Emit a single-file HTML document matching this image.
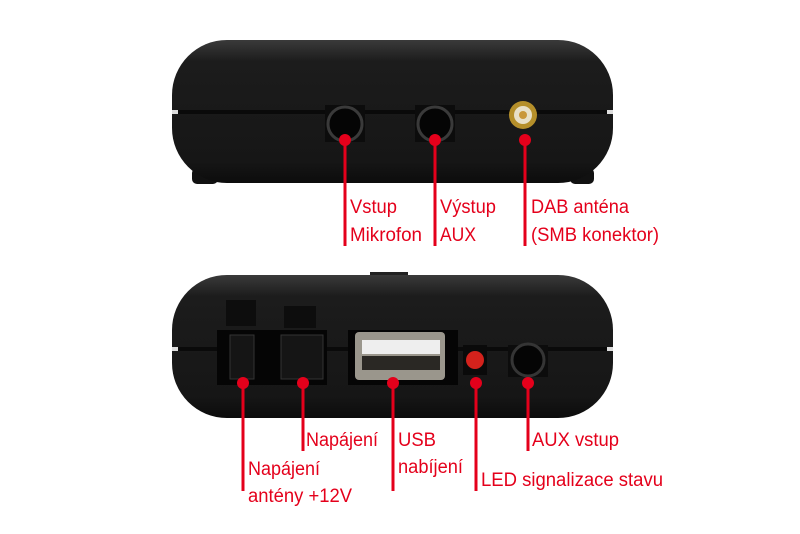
<!DOCTYPE html>
<html><head><meta charset="utf-8"><style>
html,body{margin:0;padding:0;background:#fff;width:800px;height:534px;overflow:hidden}
text{font-family:"Liberation Sans",sans-serif;font-size:19px;fill:#e4001b}
</style></head><body>
<svg width="800" height="534" viewBox="0 0 800 534" xmlns="http://www.w3.org/2000/svg">
<defs>
<linearGradient id="b" x1="0" y1="0" x2="0" y2="1">
<stop offset="0" stop-color="#3a3a3a"/><stop offset="0.15" stop-color="#1c1c1c"/><stop offset="0.85" stop-color="#161616"/><stop offset="1" stop-color="#0c0c0c"/></linearGradient>
</defs>
<!-- top device -->
<rect x="192" y="168" width="26" height="16" rx="5" fill="#111"/>
<rect x="570" y="168" width="24" height="16" rx="5" fill="#111"/>
<rect x="172" y="40" width="441" height="143" rx="55" fill="url(#b)"/>
<rect x="172" y="110" width="441" height="4" fill="#0a0a0a"/>
<rect x="172" y="110" width="6" height="4" fill="#ddd"/><rect x="607" y="110" width="6" height="4" fill="#ddd"/>
<rect x="325" y="105" width="40" height="37" fill="#0c0c0c"/>
<circle cx="345" cy="124" r="17" fill="#050505" stroke="#3a3a3a" stroke-width="3"/>
<rect x="415" y="105" width="40" height="37" fill="#0c0c0c"/>
<circle cx="435" cy="124" r="17" fill="#050505" stroke="#3a3a3a" stroke-width="3"/>
<circle cx="523" cy="115" r="14" fill="#b58f2a"/><circle cx="523" cy="115" r="9" fill="#e8e0c8"/><circle cx="523" cy="115" r="4" fill="#c9973a"/>
<g fill="#e4001b"><circle cx="345" cy="140" r="6"/><circle cx="435" cy="140" r="6"/><circle cx="525" cy="140" r="6"/></g>
<g stroke="#e4001b" stroke-width="3"><line x1="345" y1="140" x2="345" y2="246"/><line x1="435" y1="140" x2="435" y2="246"/><line x1="525" y1="140" x2="525" y2="246"/></g>
<text x="350" y="213" textLength="47" lengthAdjust="spacingAndGlyphs">Vstup</text>
<text x="350" y="241" textLength="72" lengthAdjust="spacingAndGlyphs">Mikrofon</text>
<text x="440" y="213" textLength="56" lengthAdjust="spacingAndGlyphs">Výstup</text>
<text x="440" y="241" textLength="36" lengthAdjust="spacingAndGlyphs">AUX</text>
<text x="531" y="213" textLength="98" lengthAdjust="spacingAndGlyphs">DAB anténa</text>
<text x="531" y="241" textLength="128" lengthAdjust="spacingAndGlyphs">(SMB konektor)</text>
<!-- bottom device -->
<rect x="370" y="272" width="38" height="6" fill="#222"/>
<rect x="172" y="275" width="441" height="143" rx="55" fill="url(#b)"/>
<rect x="172" y="347" width="441" height="4" fill="#0a0a0a"/>
<rect x="172" y="347" width="6" height="4" fill="#ddd"/><rect x="607" y="347" width="6" height="4" fill="#ddd"/>
<rect x="226" y="300" width="30" height="26" fill="#0d0d0d"/><rect x="284" y="306" width="32" height="22" fill="#0d0d0d"/>
<rect x="217" y="330" width="110" height="55" fill="#050505"/>
<rect x="230" y="335" width="24" height="44" fill="#151515" stroke="#333"/>
<rect x="281" y="335" width="42" height="44" fill="#151515" stroke="#333"/>
<rect x="348" y="330" width="110" height="55" fill="#050505"/>
<rect x="355" y="332" width="90" height="48" rx="4" fill="#9a968c"/>
<rect x="362" y="340" width="78" height="14" fill="#eeeeee"/><rect x="362" y="356" width="78" height="14" fill="#2a2824"/>
<rect x="463" y="345" width="24" height="30" fill="#0a0a0a"/>
<circle cx="475" cy="360" r="9" fill="#d4221c"/>
<rect x="508" y="345" width="40" height="32" fill="#0c0c0c"/>
<circle cx="528" cy="360" r="16" fill="#050505" stroke="#353535" stroke-width="3"/>
<g fill="#e4001b"><circle cx="243" cy="383" r="6"/><circle cx="303" cy="383" r="6"/><circle cx="393" cy="383" r="6"/><circle cx="476" cy="383" r="6"/><circle cx="528" cy="383" r="6"/></g>
<g stroke="#e4001b" stroke-width="3"><line x1="243" y1="383" x2="243" y2="491"/><line x1="303" y1="383" x2="303" y2="451"/><line x1="393" y1="383" x2="393" y2="491"/><line x1="476" y1="383" x2="476" y2="491"/><line x1="528" y1="383" x2="528" y2="451"/></g>
<text x="306" y="446" textLength="72" lengthAdjust="spacingAndGlyphs">Napájení</text>
<text x="248" y="475" textLength="72" lengthAdjust="spacingAndGlyphs">Napájení</text>
<text x="248" y="502" textLength="104" lengthAdjust="spacingAndGlyphs">antény +12V</text>
<text x="398" y="446" textLength="38" lengthAdjust="spacingAndGlyphs">USB</text>
<text x="398" y="473" textLength="65" lengthAdjust="spacingAndGlyphs">nabíjení</text>
<text x="532" y="446" textLength="87" lengthAdjust="spacingAndGlyphs">AUX vstup</text>
<text x="481" y="486" textLength="182" lengthAdjust="spacingAndGlyphs">LED signalizace stavu</text>
</svg>
</body></html>
